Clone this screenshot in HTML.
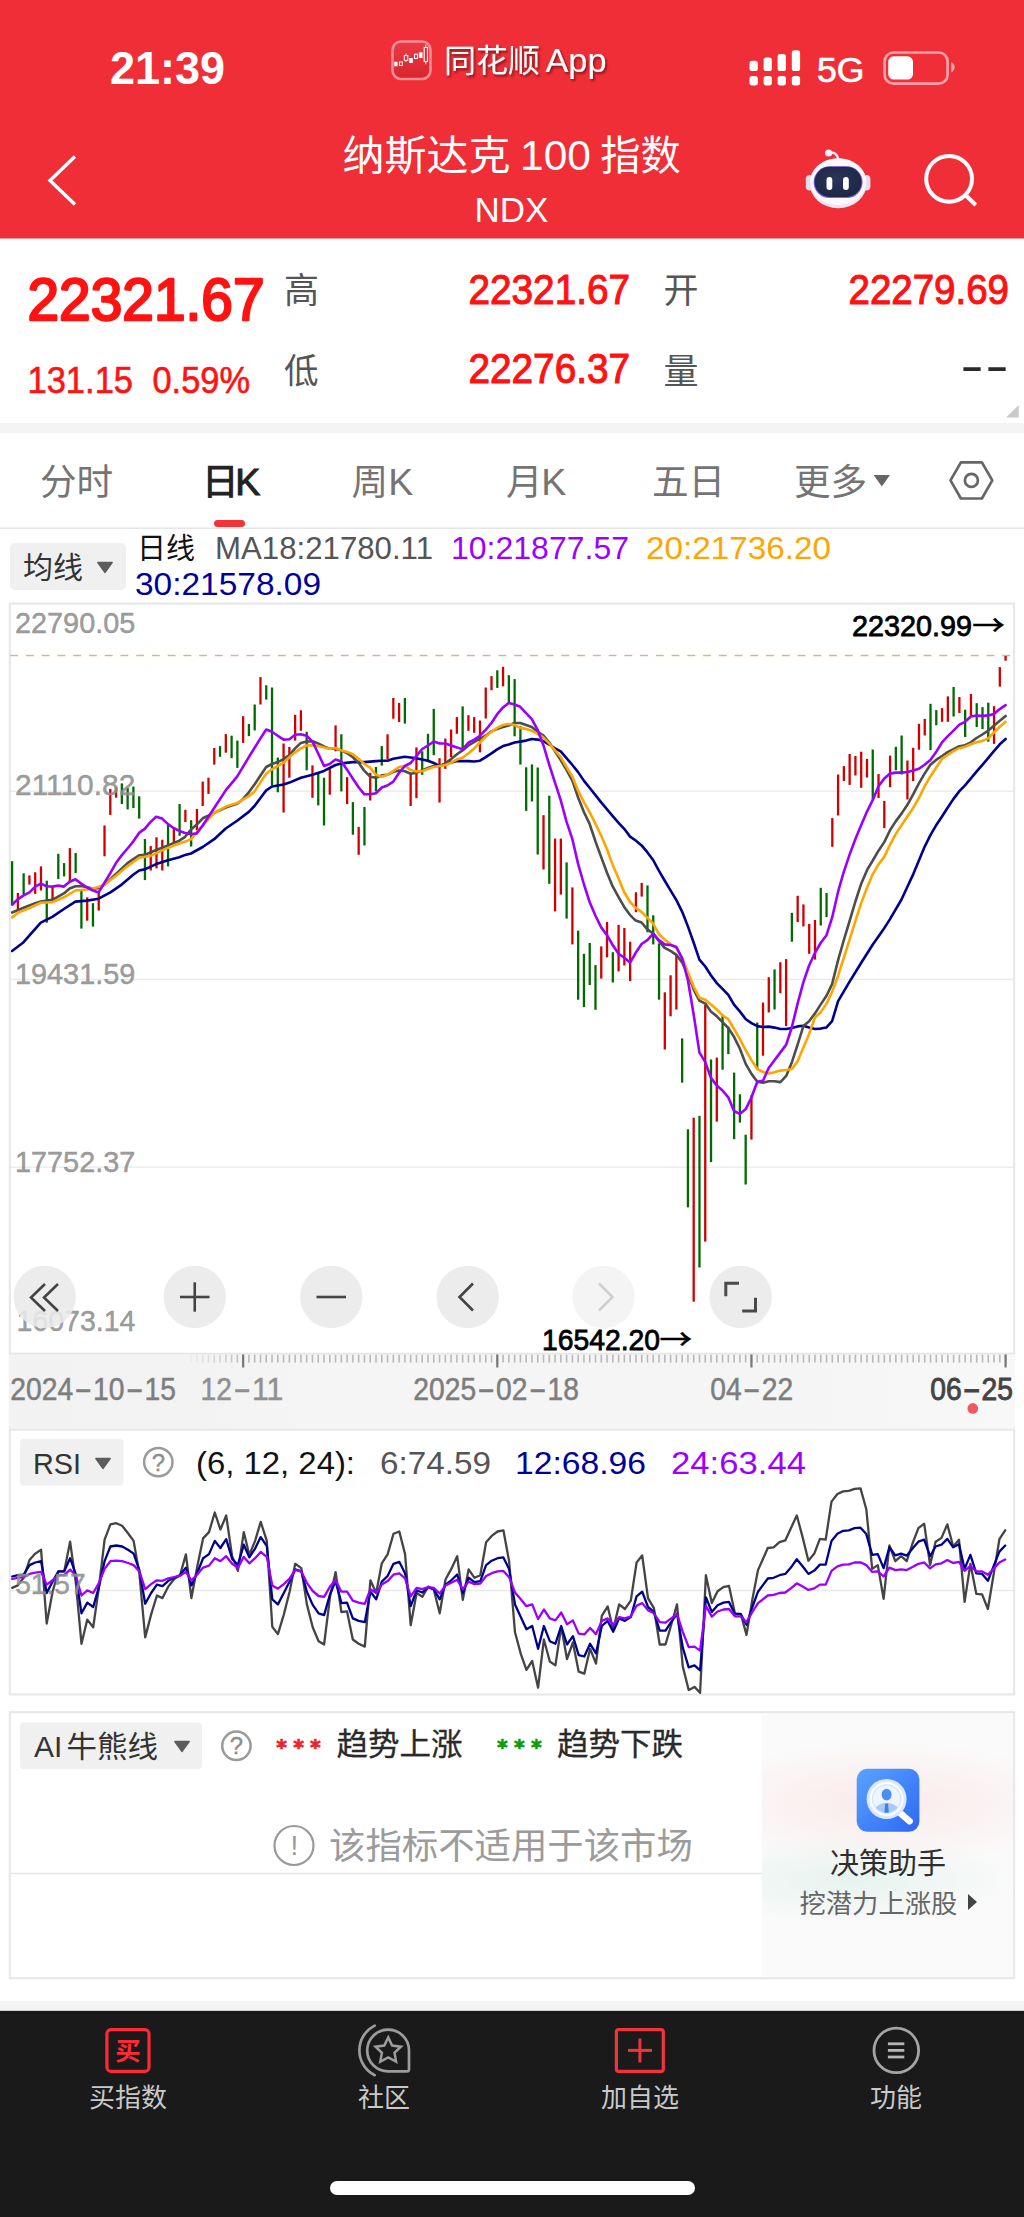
<!DOCTYPE html>
<html lang="zh-CN"><head><meta charset="utf-8"><title>纳斯达克100指数 NDX</title>
<style>html,body{margin:0;padding:0;background:#fff;}body{width:1024px;height:2217px;overflow:hidden;}svg{display:block;font-family:"Liberation Sans", "Noto Sans CJK SC", sans-serif;}text{white-space:pre;}</style></head>
<body>
<svg width="1024" height="2217" viewBox="0 0 1024 2217">
<rect x="0" y="0" width="1024" height="2217" fill="#ffffff"/>
<rect x="0" y="0" width="1024" height="238.5" fill="#F02E37"/>
<rect x="0" y="422.9" width="1024" height="10.3" fill="#f4f4f4"/>
<text x="110" y="84" font-size="46" fill="#fff" font-weight="bold" textLength="115" lengthAdjust="spacingAndGlyphs">21:39</text>
<linearGradient id="aig" x1="0" x2="0" y1="0" y2="1"><stop offset="0" stop-color="#ea3b45"/><stop offset="1" stop-color="#d9252f"/></linearGradient>
<g id="appicon"><rect x="392.5" y="41.5" width="38" height="37.5" rx="8.5" fill="url(#aig)" stroke="#f28d92" stroke-width="2.6"/><rect x="394.3" y="61.7" width="3.2" height="4.6" fill="#fff"/><rect x="399.4" y="61.9" width="2.9" height="3.6" fill="none" stroke="#fff" stroke-width="1"/><line x1="406" y1="53.5" x2="406" y2="62" stroke="#fff" stroke-width="0.8"/><rect x="404.3" y="55.6" width="3.5" height="4.8" fill="#e2303a" stroke="#fff" stroke-width="1"/><rect x="409.2" y="58" width="3.6" height="5" fill="#fff"/><rect x="414.5" y="54.2" width="3" height="4.2" fill="none" stroke="#fff" stroke-width="1"/><rect x="418.9" y="52.3" width="3.6" height="5.7" fill="#fff"/><line x1="425.8" y1="44.7" x2="425.8" y2="64.3" stroke="#fff" stroke-width="0.9"/><rect x="424.2" y="47.5" width="3.3" height="14" fill="#e2303a" stroke="#fff" stroke-width="1.1"/></g>
<filter id="ts" x="-10%" y="-20%" width="120%" height="150%"><feDropShadow dx="1.5" dy="2" stdDeviation="1.2" flood-color="#5a0a10" flood-opacity="0.75"/></filter>
<text y="72" font-size="32" fill="#fff" filter="url(#ts)"><tspan x="444">同花顺</tspan><tspan> </tspan><tspan x="545.5" font-size="33.5" textLength="61" lengthAdjust="spacingAndGlyphs">App</tspan></text>
<rect x="749.5" y="60.8" width="8.3" height="10.2" rx="2.6" fill="#fff"/>
<rect x="749.5" y="76" width="8.3" height="9.4" rx="2.6" fill="#fff"/>
<rect x="763.6" y="57.5" width="8.3" height="13.5" rx="2.6" fill="#fff"/>
<rect x="763.6" y="76" width="8.3" height="9.4" rx="2.6" fill="#fff"/>
<rect x="777.6" y="54.1" width="8.3" height="16.9" rx="2.6" fill="#fff"/>
<rect x="777.6" y="76" width="8.3" height="9.4" rx="2.6" fill="#fff"/>
<rect x="791.8" y="50.3" width="8.3" height="20.7" rx="2.6" fill="#fff"/>
<rect x="791.8" y="76" width="8.3" height="9.4" rx="2.6" fill="#fff"/>
<text x="817" y="81.5" font-size="35" fill="#fff" textLength="47.5" lengthAdjust="spacingAndGlyphs" stroke="#fff" stroke-width="0.7">5G</text>
<rect x="884.6" y="52.5" width="63" height="31.2" rx="9" fill="none" stroke="#f7a0a5" stroke-width="2.7"/>
<rect x="888.2" y="56.3" width="24.8" height="23.3" rx="5.5" fill="#fff"/>
<path d="M951.2,62 C955.8,63.8 955.8,70.6 951.2,72.4 z" fill="#f7a0a5"/>
<polyline points="75,156.5 50,180.5 75,204.5" fill="none" stroke="#fff" stroke-width="3.4" stroke-linejoin="miter"/>
<text y="169.5" font-size="41" fill="#fff"><tspan x="342.5" textLength="168" lengthAdjust="spacingAndGlyphs">纳斯达克</tspan><tspan> </tspan><tspan x="520" font-size="42.5">100</tspan><tspan> </tspan><tspan x="600.3" textLength="80.5" lengthAdjust="spacingAndGlyphs">指数</tspan></text>
<text x="511.5" y="222" font-size="35" fill="#fff" text-anchor="middle">NDX</text>
<radialGradient id="rface" cx="0.45" cy="0.4" r="0.7"><stop offset="0" stop-color="#2b3558"/><stop offset="1" stop-color="#1d2443"/></radialGradient>
<g id="robot">
<path d="M838.2,159 C837.5,154 834,151.8 829.5,153" fill="none" stroke="#f4eef8" stroke-width="2.4" stroke-linecap="round"/>
<circle cx="828.6" cy="153" r="3.6" fill="#f6f1fa"/>
<rect x="805.8" y="175" width="8" height="15.5" rx="4" fill="#e6dcee"/>
<rect x="862.4" y="175" width="8" height="15.5" rx="4" fill="#e6dcee"/>
<ellipse cx="838.2" cy="183.2" rx="28.6" ry="25" fill="#ece4f3"/>
<ellipse cx="838.2" cy="181.8" rx="28" ry="23.3" fill="#fbf8fd"/>
<rect x="813.6" y="166.3" width="49" height="31.8" rx="15.9" fill="#7c5fe6"/>
<rect x="814.6" y="166.8" width="47" height="30.2" rx="15.1" fill="url(#rface)"/>
<rect x="826.5" y="177" width="5.8" height="13" rx="2.9" fill="#fff"/>
<rect x="843" y="177" width="5.8" height="13" rx="2.9" fill="#fff"/>
</g>
<circle cx="949.1" cy="178.8" r="22.9" fill="none" stroke="#fff" stroke-width="4"/>
<line x1="964.6" y1="194.3" x2="975.8" y2="205" stroke="#fff" stroke-width="4" stroke-linecap="butt"/>
<text x="27.5" y="320.3" font-size="59" fill="#FF1212" textLength="237" lengthAdjust="spacingAndGlyphs" stroke="#FF1212" stroke-width="2.4" stroke-linejoin="round">22321.67</text>
<text x="27.5" y="393.3" font-size="37.5" fill="#FF1212" textLength="105.5" lengthAdjust="spacingAndGlyphs" stroke="#FF1212" stroke-width="0.6">131.15</text>
<text x="152.5" y="393.3" font-size="37.5" fill="#FF1212" textLength="97.5" lengthAdjust="spacingAndGlyphs" stroke="#FF1212" stroke-width="0.6">0.59%</text>
<text x="284" y="303.3" font-size="35" fill="#555">高</text>
<text x="284" y="383" font-size="34.5" fill="#555">低</text>
<text x="663.5" y="303" font-size="35" fill="#555">开</text>
<text x="663.5" y="383.8" font-size="35" fill="#555">量</text>
<text x="468.5" y="304.2" font-size="42" fill="#FF1212" textLength="161.5" lengthAdjust="spacingAndGlyphs" stroke="#FF1212" stroke-width="1.1">22321.67</text>
<text x="468.5" y="383.4" font-size="42" fill="#FF1212" textLength="161.5" lengthAdjust="spacingAndGlyphs" stroke="#FF1212" stroke-width="1.1">22276.37</text>
<text x="848.5" y="304.2" font-size="42" fill="#FF1212" textLength="160.5" lengthAdjust="spacingAndGlyphs" stroke="#FF1212" stroke-width="1.1">22279.69</text>
<text transform="translate(0,381.7) scale(1.49,1)" x="644.41 661.32" y="0" font-size="47.5" fill="#2a2a2a">--</text>
<polygon points="1018.8,404.9 1018.8,417.6 1006,417.6" fill="#cacaca"/>
<text x="40" y="495.3" font-size="36.6" fill="#747474">分时</text>
<text y="495.3" font-size="36.6" fill="#222" stroke="#222" stroke-width="1"><tspan x="202">日</tspan><tspan x="235.2" font-size="37.5">K</tspan></text>
<text y="495.3" font-size="36.6" fill="#747474"><tspan x="351.5">周</tspan><tspan x="388.3" font-size="37.5">K</tspan></text>
<text y="495.3" font-size="36.6" fill="#747474"><tspan x="506">月</tspan><tspan x="541.3" font-size="37.5">K</tspan></text>
<text x="652" y="495.3" font-size="36.6" fill="#747474">五日</text>
<text x="794" y="495.3" font-size="36.6" fill="#747474">更多</text>
<polygon points="874.6,475.5 889,475.5 881.8,485.5" fill="#666" stroke="#666" stroke-width="1.2" stroke-linejoin="round"/>
<rect x="214" y="520" width="31" height="7" rx="3.5" fill="#F5333A"/>
<polygon points="992.3,480.4 981.9,498.5 960.9,498.5 950.5,480.4 960.9,462.3 981.9,462.3" fill="none" stroke="#666" stroke-width="2.7" stroke-linejoin="round"/>
<circle cx="971.4" cy="480.4" r="6.5" fill="none" stroke="#666" stroke-width="2.7"/>
<rect x="0" y="527.5" width="1024" height="1.5" fill="#e6e6e6"/>
<rect x="10" y="543" width="116" height="47" rx="5" fill="#f0f0f0"/>
<text x="23" y="578" font-size="30" fill="#333">均线</text>
<polygon points="97.8,562.5 112.2,562.5 105.0,572.5" fill="#5c5c5c" stroke="#5c5c5c" stroke-width="1.3" stroke-linejoin="round"/>
<text x="137" y="559" font-size="29" fill="#111">日线</text>
<text x="215" y="559" font-size="30.5" fill="#555" textLength="218" lengthAdjust="spacingAndGlyphs">MA18:21780.11</text>
<text x="451" y="559" font-size="30.5" fill="#9D00FF" textLength="178" lengthAdjust="spacingAndGlyphs">10:21877.57</text>
<text x="646" y="559" font-size="30.5" fill="#FFA500" textLength="185" lengthAdjust="spacingAndGlyphs">20:21736.20</text>
<text x="135" y="595" font-size="30.5" fill="#00009A" textLength="186" lengthAdjust="spacingAndGlyphs">30:21578.09</text>
<line x1="9.8" y1="791.2" x2="1014.1" y2="791.2" stroke="#e9e9e9" stroke-width="1.3"/>
<line x1="9.8" y1="979.5" x2="1014.1" y2="979.5" stroke="#e9e9e9" stroke-width="1.3"/>
<line x1="9.8" y1="1167.2" x2="1014.1" y2="1167.2" stroke="#e9e9e9" stroke-width="1.3"/>
<rect x="9.8" y="603.6" width="1004.3" height="750.1" fill="none" stroke="#e7e7e7" stroke-width="2.1"/>
<line x1="10.2" y1="655.4" x2="1013" y2="655.4" stroke="#d9b58b" stroke-width="1.5" stroke-dasharray="7.874 7.874"/>
<g stroke-width="2.3"><line x1="12.10" y1="861.2" x2="12.10" y2="905.1" stroke="#006B00"/><line x1="17.88" y1="893.0" x2="17.88" y2="909.0" stroke="#D00000"/><line x1="23.65" y1="873.3" x2="23.65" y2="894.4" stroke="#006B00"/><line x1="29.43" y1="875.4" x2="29.43" y2="884.6" stroke="#D00000"/><line x1="35.20" y1="872.3" x2="35.20" y2="893.8" stroke="#D00000"/><line x1="40.98" y1="866.4" x2="40.98" y2="890.5" stroke="#D00000"/><line x1="46.76" y1="880.7" x2="46.76" y2="922.7" stroke="#006B00"/><line x1="52.53" y1="886.6" x2="52.53" y2="900.2" stroke="#D00000"/><line x1="58.31" y1="853.8" x2="58.31" y2="879.1" stroke="#006B00"/><line x1="64.09" y1="863.1" x2="64.09" y2="876.4" stroke="#006B00"/><line x1="69.86" y1="848.1" x2="69.86" y2="881.7" stroke="#D00000"/><line x1="75.64" y1="853.0" x2="75.64" y2="872.9" stroke="#006B00"/><line x1="81.41" y1="890.5" x2="81.41" y2="928.6" stroke="#006B00"/><line x1="87.19" y1="897.3" x2="87.19" y2="920.7" stroke="#D00000"/><line x1="92.97" y1="903.2" x2="92.97" y2="926.6" stroke="#006B00"/><line x1="98.74" y1="891.4" x2="98.74" y2="910.6" stroke="#D00000"/><line x1="104.52" y1="825.4" x2="104.52" y2="856.3" stroke="#D00000"/><line x1="110.29" y1="788.9" x2="110.29" y2="814.9" stroke="#D00000"/><line x1="116.07" y1="786.6" x2="116.07" y2="797.7" stroke="#D00000"/><line x1="121.85" y1="783.4" x2="121.85" y2="804.1" stroke="#006B00"/><line x1="127.62" y1="787.9" x2="127.62" y2="809.4" stroke="#006B00"/><line x1="133.40" y1="786.6" x2="133.40" y2="808.0" stroke="#006B00"/><line x1="139.18" y1="796.3" x2="139.18" y2="818.6" stroke="#006B00"/><line x1="144.95" y1="839.1" x2="144.95" y2="880.1" stroke="#006B00"/><line x1="150.73" y1="846.1" x2="150.73" y2="870.5" stroke="#D00000"/><line x1="156.50" y1="837.3" x2="156.50" y2="868.4" stroke="#D00000"/><line x1="162.28" y1="839.7" x2="162.28" y2="870.5" stroke="#D00000"/><line x1="168.06" y1="825.0" x2="168.06" y2="866.4" stroke="#006B00"/><line x1="173.83" y1="827.0" x2="173.83" y2="842.6" stroke="#D00000"/><line x1="179.61" y1="803.9" x2="179.61" y2="835.8" stroke="#006B00"/><line x1="185.38" y1="809.8" x2="185.38" y2="822.1" stroke="#D00000"/><line x1="191.16" y1="820.2" x2="191.16" y2="846.5" stroke="#006B00"/><line x1="196.94" y1="808.9" x2="196.94" y2="830.4" stroke="#D00000"/><line x1="202.71" y1="781.6" x2="202.71" y2="806.0" stroke="#D00000"/><line x1="208.49" y1="777.7" x2="208.49" y2="793.9" stroke="#D00000"/><line x1="214.27" y1="748.0" x2="214.27" y2="764.6" stroke="#D00000"/><line x1="220.04" y1="746.1" x2="220.04" y2="756.8" stroke="#006B00"/><line x1="225.82" y1="734.1" x2="225.82" y2="752.7" stroke="#D00000"/><line x1="231.59" y1="735.7" x2="231.59" y2="758.2" stroke="#006B00"/><line x1="237.37" y1="740.6" x2="237.37" y2="767.9" stroke="#006B00"/><line x1="243.15" y1="716.2" x2="243.15" y2="742.9" stroke="#D00000"/><line x1="248.92" y1="724.0" x2="248.92" y2="736.1" stroke="#006B00"/><line x1="254.70" y1="704.5" x2="254.70" y2="730.4" stroke="#006B00"/><line x1="260.48" y1="677.1" x2="260.48" y2="704.5" stroke="#D00000"/><line x1="266.25" y1="685.3" x2="266.25" y2="699.6" stroke="#006B00"/><line x1="272.03" y1="687.5" x2="272.03" y2="785.5" stroke="#006B00"/><line x1="277.80" y1="757.6" x2="277.80" y2="792.3" stroke="#006B00"/><line x1="283.58" y1="743.5" x2="283.58" y2="812.5" stroke="#D00000"/><line x1="289.36" y1="747.0" x2="289.36" y2="777.7" stroke="#D00000"/><line x1="295.13" y1="714.8" x2="295.13" y2="740.6" stroke="#D00000"/><line x1="300.91" y1="710.3" x2="300.91" y2="730.8" stroke="#D00000"/><line x1="306.68" y1="731.8" x2="306.68" y2="770.3" stroke="#006B00"/><line x1="312.46" y1="765.4" x2="312.46" y2="797.8" stroke="#D00000"/><line x1="318.24" y1="772.8" x2="318.24" y2="805.4" stroke="#006B00"/><line x1="324.01" y1="777.7" x2="324.01" y2="825.5" stroke="#006B00"/><line x1="329.79" y1="767.9" x2="329.79" y2="794.7" stroke="#D00000"/><line x1="335.57" y1="725.4" x2="335.57" y2="751.3" stroke="#D00000"/><line x1="341.34" y1="734.3" x2="341.34" y2="791.4" stroke="#006B00"/><line x1="347.12" y1="777.1" x2="347.12" y2="804.1" stroke="#D00000"/><line x1="352.89" y1="802.1" x2="352.89" y2="834.7" stroke="#006B00"/><line x1="358.67" y1="826.9" x2="358.67" y2="854.8" stroke="#D00000"/><line x1="364.45" y1="807.0" x2="364.45" y2="845.5" stroke="#006B00"/><line x1="370.22" y1="772.8" x2="370.22" y2="800.5" stroke="#D00000"/><line x1="376.00" y1="767.0" x2="376.00" y2="791.4" stroke="#006B00"/><line x1="381.77" y1="746.1" x2="381.77" y2="765.6" stroke="#006B00"/><line x1="387.55" y1="734.3" x2="387.55" y2="759.1" stroke="#D00000"/><line x1="393.33" y1="698.0" x2="393.33" y2="718.7" stroke="#D00000"/><line x1="399.10" y1="702.9" x2="399.10" y2="722.0" stroke="#D00000"/><line x1="404.88" y1="698.0" x2="404.88" y2="723.6" stroke="#006B00"/><line x1="410.66" y1="773.4" x2="410.66" y2="806.0" stroke="#D00000"/><line x1="416.43" y1="747.4" x2="416.43" y2="798.2" stroke="#D00000"/><line x1="422.21" y1="751.3" x2="422.21" y2="774.8" stroke="#006B00"/><line x1="427.98" y1="733.8" x2="427.98" y2="762.1" stroke="#006B00"/><line x1="433.76" y1="708.9" x2="433.76" y2="755.2" stroke="#006B00"/><line x1="439.54" y1="758.2" x2="439.54" y2="802.5" stroke="#D00000"/><line x1="445.31" y1="738.6" x2="445.31" y2="768.9" stroke="#D00000"/><line x1="451.09" y1="729.5" x2="451.09" y2="757.2" stroke="#D00000"/><line x1="456.86" y1="717.1" x2="456.86" y2="733.8" stroke="#D00000"/><line x1="462.64" y1="706.4" x2="462.64" y2="748.4" stroke="#006B00"/><line x1="468.42" y1="715.2" x2="468.42" y2="730.8" stroke="#D00000"/><line x1="474.19" y1="717.1" x2="474.19" y2="732.8" stroke="#D00000"/><line x1="479.97" y1="720.5" x2="479.97" y2="752.3" stroke="#D00000"/><line x1="485.75" y1="687.5" x2="485.75" y2="718.5" stroke="#D00000"/><line x1="491.52" y1="676.1" x2="491.52" y2="690.2" stroke="#D00000"/><line x1="497.30" y1="670.3" x2="497.30" y2="687.9" stroke="#006B00"/><line x1="503.07" y1="666.8" x2="503.07" y2="686.3" stroke="#D00000"/><line x1="508.85" y1="675.2" x2="508.85" y2="703.5" stroke="#006B00"/><line x1="514.63" y1="679.1" x2="514.63" y2="736.3" stroke="#006B00"/><line x1="520.40" y1="725.9" x2="520.40" y2="764.6" stroke="#006B00"/><line x1="526.18" y1="767.3" x2="526.18" y2="810.9" stroke="#006B00"/><line x1="531.95" y1="764.4" x2="531.95" y2="801.5" stroke="#006B00"/><line x1="537.73" y1="767.5" x2="537.73" y2="854.5" stroke="#006B00"/><line x1="543.51" y1="815.2" x2="543.51" y2="869.5" stroke="#D00000"/><line x1="549.28" y1="795.7" x2="549.28" y2="883.8" stroke="#006B00"/><line x1="555.06" y1="838.6" x2="555.06" y2="911.4" stroke="#D00000"/><line x1="560.84" y1="838.6" x2="560.84" y2="894.6" stroke="#D00000"/><line x1="566.61" y1="862.4" x2="566.61" y2="918.6" stroke="#006B00"/><line x1="572.39" y1="887.4" x2="572.39" y2="944.4" stroke="#D00000"/><line x1="578.16" y1="930.7" x2="578.16" y2="999.7" stroke="#006B00"/><line x1="583.94" y1="953.8" x2="583.94" y2="1007.1" stroke="#006B00"/><line x1="589.72" y1="943.0" x2="589.72" y2="985.0" stroke="#006B00"/><line x1="595.49" y1="965.1" x2="595.49" y2="1009.8" stroke="#006B00"/><line x1="601.27" y1="946.4" x2="601.27" y2="978.6" stroke="#D00000"/><line x1="607.04" y1="922.0" x2="607.04" y2="957.3" stroke="#D00000"/><line x1="612.82" y1="952.2" x2="612.82" y2="982.5" stroke="#006B00"/><line x1="618.60" y1="924.9" x2="618.60" y2="971.4" stroke="#D00000"/><line x1="624.37" y1="928.0" x2="624.37" y2="965.5" stroke="#D00000"/><line x1="630.15" y1="941.7" x2="630.15" y2="981.1" stroke="#D00000"/><line x1="635.93" y1="892.3" x2="635.93" y2="912.2" stroke="#D00000"/><line x1="641.70" y1="882.9" x2="641.70" y2="896.6" stroke="#D00000"/><line x1="647.48" y1="885.4" x2="647.48" y2="932.3" stroke="#006B00"/><line x1="653.25" y1="915.3" x2="653.25" y2="944.4" stroke="#006B00"/><line x1="659.03" y1="943.4" x2="659.03" y2="999.7" stroke="#006B00"/><line x1="664.81" y1="992.3" x2="664.81" y2="1049.5" stroke="#D00000"/><line x1="670.58" y1="975.3" x2="670.58" y2="1016.3" stroke="#D00000"/><line x1="676.36" y1="954.8" x2="676.36" y2="1009.5" stroke="#D00000"/><line x1="682.13" y1="1038.4" x2="682.13" y2="1082.7" stroke="#006B00"/><line x1="687.91" y1="1129.3" x2="687.91" y2="1207.4" stroke="#006B00"/><line x1="693.69" y1="1117.7" x2="693.69" y2="1301.7" stroke="#D00000"/><line x1="699.46" y1="1115.8" x2="699.46" y2="1267.5" stroke="#006B00"/><line x1="705.24" y1="1004.8" x2="705.24" y2="1241.6" stroke="#D00000"/><line x1="711.02" y1="1059.5" x2="711.02" y2="1162.1" stroke="#006B00"/><line x1="716.79" y1="1057.6" x2="716.79" y2="1121.6" stroke="#D00000"/><line x1="722.57" y1="1014.6" x2="722.57" y2="1069.7" stroke="#006B00"/><line x1="728.34" y1="1026.9" x2="728.34" y2="1054.1" stroke="#006B00"/><line x1="734.12" y1="1072.6" x2="734.12" y2="1139.2" stroke="#006B00"/><line x1="739.90" y1="1094.3" x2="739.90" y2="1122.6" stroke="#006B00"/><line x1="745.67" y1="1134.7" x2="745.67" y2="1184.5" stroke="#006B00"/><line x1="751.45" y1="1095.3" x2="751.45" y2="1139.6" stroke="#D00000"/><line x1="757.23" y1="1022.5" x2="757.23" y2="1069.6" stroke="#006B00"/><line x1="763.00" y1="1002.6" x2="763.00" y2="1055.7" stroke="#D00000"/><line x1="768.78" y1="977.2" x2="768.78" y2="1012.4" stroke="#D00000"/><line x1="774.55" y1="969.4" x2="774.55" y2="1009.5" stroke="#006B00"/><line x1="780.33" y1="962.2" x2="780.33" y2="993.2" stroke="#D00000"/><line x1="786.11" y1="959.1" x2="786.11" y2="1026.1" stroke="#D00000"/><line x1="791.88" y1="912.8" x2="791.88" y2="941.7" stroke="#006B00"/><line x1="797.66" y1="895.8" x2="797.66" y2="922.1" stroke="#D00000"/><line x1="803.43" y1="904.4" x2="803.43" y2="926.4" stroke="#D00000"/><line x1="809.21" y1="923.9" x2="809.21" y2="953.8" stroke="#D00000"/><line x1="814.99" y1="920.0" x2="814.99" y2="959.6" stroke="#D00000"/><line x1="820.76" y1="887.8" x2="820.76" y2="925.5" stroke="#006B00"/><line x1="826.54" y1="892.9" x2="826.54" y2="917.1" stroke="#006B00"/><line x1="832.32" y1="818.1" x2="832.32" y2="846.8" stroke="#D00000"/><line x1="838.09" y1="774.5" x2="838.09" y2="815.5" stroke="#D00000"/><line x1="843.87" y1="766.1" x2="843.87" y2="781.0" stroke="#D00000"/><line x1="849.64" y1="754.0" x2="849.64" y2="784.9" stroke="#D00000"/><line x1="855.42" y1="756.0" x2="855.42" y2="775.5" stroke="#D00000"/><line x1="861.20" y1="751.7" x2="861.20" y2="787.8" stroke="#D00000"/><line x1="866.97" y1="758.9" x2="866.97" y2="777.5" stroke="#D00000"/><line x1="872.75" y1="749.5" x2="872.75" y2="799.5" stroke="#006B00"/><line x1="878.52" y1="774.1" x2="878.52" y2="798.0" stroke="#D00000"/><line x1="884.30" y1="800.9" x2="884.30" y2="828.2" stroke="#D00000"/><line x1="890.08" y1="755.6" x2="890.08" y2="787.2" stroke="#D00000"/><line x1="895.85" y1="746.8" x2="895.85" y2="770.2" stroke="#006B00"/><line x1="901.63" y1="735.5" x2="901.63" y2="774.5" stroke="#006B00"/><line x1="907.41" y1="760.5" x2="907.41" y2="799.5" stroke="#D00000"/><line x1="913.18" y1="747.8" x2="913.18" y2="781.0" stroke="#D00000"/><line x1="918.96" y1="723.8" x2="918.96" y2="749.7" stroke="#D00000"/><line x1="924.73" y1="718.9" x2="924.73" y2="735.5" stroke="#D00000"/><line x1="930.51" y1="703.8" x2="930.51" y2="750.1" stroke="#006B00"/><line x1="936.29" y1="710.1" x2="936.29" y2="725.3" stroke="#006B00"/><line x1="942.06" y1="708.1" x2="942.06" y2="721.8" stroke="#D00000"/><line x1="947.84" y1="696.4" x2="947.84" y2="721.8" stroke="#D00000"/><line x1="953.61" y1="687.0" x2="953.61" y2="716.5" stroke="#006B00"/><line x1="959.39" y1="697.0" x2="959.39" y2="713.0" stroke="#D00000"/><line x1="965.17" y1="709.7" x2="965.17" y2="737.0" stroke="#006B00"/><line x1="970.94" y1="693.9" x2="970.94" y2="715.9" stroke="#D00000"/><line x1="976.72" y1="703.2" x2="976.72" y2="727.1" stroke="#006B00"/><line x1="982.50" y1="707.1" x2="982.50" y2="729.0" stroke="#006B00"/><line x1="988.27" y1="702.7" x2="988.27" y2="741.7" stroke="#006B00"/><line x1="994.05" y1="706.2" x2="994.05" y2="743.9" stroke="#D00000"/><line x1="999.82" y1="667.1" x2="999.82" y2="686.6" stroke="#D00000"/><line x1="1005.60" y1="656.0" x2="1005.60" y2="660.7" stroke="#D00000"/></g>
<clipPath id="cc"><rect x="10.8" y="604.6" width="1002.3" height="748"/></clipPath>
<g clip-path="url(#cc)">
<polyline points="12.1,951.0 23.6,942.2 29.5,935.4 40.8,922.7 52.3,916.8 63.9,909.0 75.4,901.6 87.1,900.6 98.6,898.7 110.4,892.4 121.7,884.6 133.2,874.8 139.1,870.5 144.7,869.4 156.2,864.1 168.0,860.2 179.3,857.3 185.2,854.9 191.0,853.5 202.7,847.0 214.2,839.2 225.7,828.5 237.1,820.7 248.8,811.9 254.5,806.0 260.3,798.2 266.2,790.4 272.0,786.5 283.6,784.5 289.4,782.6 300.9,777.7 312.5,774.8 324.0,770.9 335.5,765.0 341.4,763.4 352.9,762.1 364.4,762.1 375.9,761.1 381.8,760.7 387.4,760.7 393.3,758.8 404.8,756.8 416.3,758.2 427.9,760.7 433.7,763.0 439.6,766.0 445.4,764.0 457.0,761.1 468.5,761.1 474.3,761.5 480.0,760.7 485.7,757.2 491.5,753.3 497.2,749.4 503.0,746.1 508.7,744.5 514.6,742.5 520.2,741.6 526.1,740.6 531.8,739.0 537.6,739.6 543.5,741.2 549.3,744.5 555.0,748.4 560.7,751.3 566.5,758.2 572.4,765.0 578.1,772.1 584.0,780.9 589.6,787.8 601.2,802.4 612.7,816.1 618.6,822.9 624.2,828.8 630.1,836.6 635.7,840.5 641.6,845.4 647.3,852.2 653.1,860.0 659.0,870.8 664.6,880.5 670.5,890.3 676.4,900.1 682.2,911.8 687.9,926.4 693.8,943.0 699.4,959.6 705.3,966.5 710.9,975.3 716.8,983.1 722.5,988.9 728.3,994.8 734.0,1004.6 739.8,1011.4 745.8,1019.2 751.5,1023.1 757.3,1026.1 763.0,1027.0 768.7,1026.6 774.5,1027.6 780.4,1029.0 786.2,1029.0 791.9,1028.0 797.6,1026.4 803.4,1025.7 809.1,1027.6 815.0,1029.0 820.6,1028.6 826.5,1027.4 832.1,1021.2 838.1,1001.1 849.6,981.6 861.1,963.0 872.8,944.5 884.4,927.9 890.0,919.1 895.7,909.3 901.5,899.5 907.4,886.8 913.3,874.1 918.9,860.5 924.6,846.8 930.4,835.1 936.1,825.3 942.0,816.5 947.6,807.7 953.5,798.9 959.4,791.1 965.0,785.3 970.9,778.4 976.5,771.6 982.4,764.8 988.3,757.9 993.9,751.1 999.8,744.3 1005.6,739.0" fill="none" stroke="#000090" stroke-width="2.6" stroke-linejoin="round" stroke-linecap="round"/>
<polyline points="12.1,912.5 23.6,907.7 35.2,903.2 40.8,901.6 52.3,899.8 63.9,893.4 69.7,888.5 75.4,886.2 81.2,886.0 93.0,888.5 98.6,888.1 104.5,884.6 116.0,873.9 127.5,863.1 139.1,855.3 144.7,854.9 156.2,850.0 168.0,845.5 179.3,840.7 185.2,836.8 191.0,829.5 196.8,824.6 202.7,818.3 214.2,812.9 225.7,807.6 237.1,803.7 242.9,799.2 248.8,792.3 254.5,784.5 260.3,775.7 266.2,767.0 272.0,764.0 277.7,762.1 283.6,759.1 289.4,755.2 295.1,748.4 300.9,742.9 306.6,741.6 312.5,741.2 318.1,743.5 324.0,746.4 329.6,748.8 335.5,748.4 341.4,750.4 347.2,753.3 352.9,757.2 358.8,763.0 364.4,770.9 370.3,776.7 375.9,777.7 381.8,775.4 387.4,774.8 393.3,771.8 399.1,770.5 404.8,771.2 410.7,773.8 416.3,772.8 422.2,770.5 427.9,767.9 433.7,766.0 439.6,766.0 445.4,763.4 451.1,759.1 457.0,754.3 462.6,750.4 468.5,745.5 474.3,742.0 480.0,738.6 485.7,735.7 491.5,731.4 497.2,728.9 503.0,726.9 508.7,725.5 514.6,723.0 520.2,723.0 526.1,725.0 531.8,726.9 537.6,731.8 543.5,735.7 549.3,742.5 555.0,751.3 560.7,760.1 566.5,769.9 572.4,780.6 578.1,797.5 584.0,812.2 589.6,823.9 595.5,841.5 601.2,857.1 607.0,872.7 612.7,886.4 618.6,897.1 624.2,906.9 630.1,915.1 635.7,920.6 641.6,922.5 647.3,929.4 653.1,933.3 659.0,941.1 664.6,947.9 670.5,950.9 676.4,954.8 682.2,962.6 687.9,974.3 693.8,989.9 699.4,1000.7 705.3,1003.6 710.9,1011.4 716.8,1016.3 722.5,1022.1 728.3,1028.0 734.0,1036.8 739.8,1048.5 745.8,1064.1 751.5,1073.9 757.3,1081.7 763.0,1082.7 768.7,1081.3 774.5,1081.3 780.4,1082.1 786.2,1075.9 791.9,1062.2 797.6,1044.6 803.4,1026.1 809.1,1021.2 815.0,1013.4 820.6,1004.6 826.5,995.8 832.1,984.1 838.1,960.1 843.7,940.5 849.6,921.0 855.4,901.5 861.1,883.9 867.0,870.2 872.8,860.5 878.5,850.7 884.4,841.9 890.0,830.2 895.7,821.4 901.5,813.6 907.4,804.8 913.3,794.1 918.9,783.3 924.6,773.6 930.4,764.8 936.1,759.9 942.0,756.0 947.6,752.1 953.5,749.1 959.4,746.2 965.0,745.2 970.9,742.3 976.5,738.0 982.4,734.5 988.3,730.6 993.9,725.7 999.8,720.8 1005.6,715.9" fill="none" stroke="#4d4d4d" stroke-width="2.6" stroke-linejoin="round" stroke-linecap="round"/>
<polyline points="12.1,917.4 17.8,912.9 29.5,908.0 40.8,902.8 52.3,902.2 63.9,897.3 75.4,890.5 87.1,889.5 98.6,887.1 104.5,884.6 116.0,875.8 127.5,866.1 139.1,857.7 150.4,855.9 162.1,850.4 173.6,845.5 185.2,841.6 191.0,839.2 196.8,832.4 202.7,825.5 214.2,812.9 225.7,806.6 237.1,803.1 248.8,796.2 254.5,791.4 260.3,782.6 266.2,773.8 272.0,769.3 277.7,766.0 283.6,762.7 289.4,757.2 295.1,752.3 300.9,748.4 306.6,745.5 312.5,745.1 318.1,746.1 324.0,747.4 329.6,748.8 335.5,748.0 341.4,750.4 347.2,751.9 352.9,754.3 358.8,759.1 364.4,764.0 370.3,767.9 375.9,774.8 381.8,776.7 387.4,774.8 393.3,770.9 399.1,767.0 404.8,766.0 410.7,769.9 416.3,771.4 422.2,771.2 427.9,768.9 433.7,767.0 439.6,766.0 445.4,765.0 451.1,762.7 457.0,759.5 462.6,757.8 468.5,753.3 474.3,748.4 480.0,742.5 485.7,736.7 491.5,731.8 497.2,727.9 503.0,725.0 508.7,724.0 514.6,725.0 520.2,727.9 526.1,728.9 531.8,730.8 537.6,733.8 543.5,737.7 549.3,743.5 555.0,750.4 560.7,757.2 566.5,767.0 572.4,776.7 578.1,790.7 584.0,802.4 589.6,812.2 595.5,823.9 601.2,835.6 607.0,849.3 612.7,864.9 618.6,878.6 624.2,892.3 630.1,902.0 635.7,907.9 641.6,911.8 647.3,917.7 653.1,923.5 659.0,934.3 664.6,939.5 670.5,944.0 676.4,947.9 682.2,957.7 687.9,972.3 693.8,987.0 699.4,997.7 705.3,999.7 710.9,1004.6 716.8,1009.5 722.5,1015.3 728.3,1019.2 734.0,1029.0 739.8,1038.8 745.8,1050.5 751.5,1060.2 757.3,1069.0 763.0,1072.0 768.7,1073.5 774.5,1072.3 780.4,1070.6 786.2,1070.0 791.9,1069.0 797.6,1061.2 803.4,1047.5 809.1,1033.9 815.0,1017.3 820.6,1012.4 826.5,1003.6 832.1,991.9 838.1,975.7 843.7,958.1 849.6,939.6 855.4,921.0 861.1,903.4 867.0,887.8 872.8,874.1 878.5,864.4 884.4,856.6 890.0,844.8 895.7,834.1 901.5,825.3 907.4,816.5 913.3,807.7 918.9,798.0 924.6,786.2 930.4,776.5 936.1,767.7 942.0,758.9 947.6,755.0 953.5,751.1 959.4,748.2 965.0,746.8 970.9,744.3 976.5,742.3 982.4,740.9 988.3,738.4 993.9,732.5 999.8,726.7 1005.6,721.8" fill="none" stroke="#FFA500" stroke-width="2.6" stroke-linejoin="round" stroke-linecap="round"/>
<polyline points="12.1,904.7 17.8,899.3 23.6,895.4 29.5,892.4 35.2,886.6 40.8,883.6 46.7,886.2 52.3,886.6 58.2,885.6 63.9,886.6 69.7,881.7 75.4,879.3 81.2,883.6 87.1,887.5 93.0,890.5 98.6,892.4 104.5,882.7 110.4,872.9 116.0,863.1 121.7,855.3 127.5,848.5 133.2,841.6 139.1,832.9 144.7,828.9 150.4,822.1 156.2,816.8 162.1,818.6 168.0,824.1 173.6,828.0 179.3,830.9 185.2,832.9 191.0,834.3 196.8,833.4 202.7,825.5 214.2,808.0 225.7,790.4 237.1,776.7 248.8,757.2 260.3,738.6 266.2,729.5 272.0,731.8 277.7,735.7 283.6,739.6 289.4,739.2 295.1,734.7 300.9,734.3 306.6,735.7 312.5,741.6 318.1,753.3 324.0,766.0 329.6,764.0 335.5,759.5 341.4,761.5 347.2,769.9 352.9,778.7 358.8,787.5 364.4,794.3 370.3,794.3 375.9,793.3 381.8,787.5 387.4,785.5 393.3,781.6 399.1,772.8 404.8,766.0 410.7,763.0 416.3,756.2 422.2,749.0 427.9,745.5 433.7,741.6 439.6,743.5 445.4,743.5 451.1,745.5 457.0,747.4 462.6,749.4 468.5,742.5 474.3,739.6 480.0,735.7 485.7,729.8 491.5,723.0 497.2,714.2 503.0,707.4 508.7,702.9 514.6,704.5 520.2,706.8 526.1,713.2 531.8,719.1 537.6,729.8 543.5,745.5 549.3,765.0 555.0,782.6 560.7,800.2 566.5,821.6 572.4,839.2 578.1,863.9 584.0,884.5 589.6,902.0 595.5,915.7 601.2,927.4 607.0,935.2 612.7,945.0 618.6,953.8 624.2,957.7 630.1,962.6 635.7,952.8 641.6,944.0 647.3,940.1 653.1,933.9 659.0,940.1 664.6,944.4 670.5,945.0 676.4,947.0 682.2,958.7 687.9,980.2 693.8,1015.3 699.4,1052.4 705.3,1062.2 710.9,1077.8 716.8,1085.6 722.5,1090.5 728.3,1097.3 734.0,1111.0 739.8,1113.9 745.8,1109.1 751.5,1097.3 757.3,1081.7 763.0,1080.7 768.7,1068.0 774.5,1060.2 780.4,1052.4 786.2,1044.6 791.9,1027.0 797.6,1003.6 803.4,982.1 809.1,965.5 815.0,952.8 820.6,943.0 826.5,935.2 832.1,917.7 838.1,891.7 843.7,872.2 849.6,854.6 855.4,839.0 861.1,825.3 867.0,811.6 872.8,799.9 878.5,786.2 884.4,778.4 890.0,773.6 895.7,772.6 901.5,772.6 907.4,772.0 913.3,770.6 918.9,768.7 924.6,764.8 930.4,759.9 936.1,752.1 942.0,742.3 947.6,736.4 953.5,730.6 959.4,724.7 965.0,721.8 970.9,716.5 976.5,715.5 982.4,715.9 988.3,715.4 993.9,714.0 999.8,709.1 1005.6,705.2" fill="none" stroke="#9B00FF" stroke-width="2.6" stroke-linejoin="round" stroke-linecap="round"/>
</g>
<text x="15" y="633.3" font-size="30" fill="#8f8f8f" textLength="120.3" lengthAdjust="spacingAndGlyphs" stroke="#8f8f8f" stroke-width="0.5" fill-opacity="0.9" stroke-opacity="0.9">22790.05</text>
<text x="15" y="795.3" font-size="30" fill="#8f8f8f" textLength="120.3" lengthAdjust="spacingAndGlyphs" stroke="#8f8f8f" stroke-width="0.5" fill-opacity="0.9" stroke-opacity="0.9">21110.82</text>
<text x="15" y="983.5" font-size="30" fill="#8f8f8f" textLength="120.3" lengthAdjust="spacingAndGlyphs" stroke="#8f8f8f" stroke-width="0.5" fill-opacity="0.9" stroke-opacity="0.9">19431.59</text>
<text x="15" y="1171.7" font-size="30" fill="#8f8f8f" textLength="120.3" lengthAdjust="spacingAndGlyphs" stroke="#8f8f8f" stroke-width="0.5" fill-opacity="0.9" stroke-opacity="0.9">17752.37</text>
<text x="16.5" y="1331.3" font-size="30" fill="#8f8f8f" textLength="119" lengthAdjust="spacingAndGlyphs" stroke="#8f8f8f" stroke-width="0.5" fill-opacity="0.9" stroke-opacity="0.9">16073.14</text>
<text y="635.6" font-size="30" fill="#000" stroke="#000" stroke-width="0.8"><tspan x="852" textLength="120" lengthAdjust="spacingAndGlyphs">22320.99</tspan><tspan x="972.3" dy="0.2" font-size="28" textLength="32.5" lengthAdjust="spacingAndGlyphs" font-family='"Noto Sans CJK SC", sans-serif' stroke-width="0.5">→</tspan></text>
<text y="1349.6" font-size="30" fill="#000" stroke="#000" stroke-width="0.8"><tspan x="542" textLength="118" lengthAdjust="spacingAndGlyphs">16542.20</tspan><tspan x="659.5" dy="0.4" font-size="28" textLength="32.5" lengthAdjust="spacingAndGlyphs" font-family='"Noto Sans CJK SC", sans-serif' stroke-width="0.5">→</tspan></text>
<circle cx="44.75" cy="1297" r="31.2" fill="#e9e9e9" fill-opacity="0.88"/>
<circle cx="194.75" cy="1297" r="31.2" fill="#e9e9e9" fill-opacity="0.88"/>
<circle cx="331.25" cy="1297" r="31.2" fill="#e9e9e9" fill-opacity="0.88"/>
<circle cx="467.75" cy="1297" r="31.2" fill="#e9e9e9" fill-opacity="0.88"/>
<circle cx="603.5" cy="1297" r="31.2" fill="#e9e9e9" fill-opacity="0.48"/>
<circle cx="740.75" cy="1297" r="31.2" fill="#e9e9e9" fill-opacity="0.88"/>
<g fill="none" stroke="#444" stroke-width="2.6"><polyline points="45,1284 31,1297.5 45,1311"/><polyline points="58,1284 44,1297.5 58,1311"/><line x1="180" y1="1297" x2="209.5" y2="1297"/><line x1="194.75" y1="1282.3" x2="194.75" y2="1311.7"/><line x1="316.5" y1="1297" x2="346" y2="1297"/><polyline points="473,1283.5 459.5,1297 473,1310.5"/></g>
<polyline points="599,1283.5 612.5,1297 599,1310.5" fill="none" stroke="#cfcfcf" stroke-width="2.6"/>
<g fill="none" stroke="#4a4a4a" stroke-width="3"><polyline points="725.8,1296.2 725.8,1283.2 739,1283.2"/><polyline points="742.2,1311 755.5,1311 755.5,1297.8"/></g>
<linearGradient id="dg" x1="0" x2="1" y1="0" y2="0"><stop offset="0" stop-color="#f2f2f2"/><stop offset="0.2" stop-color="#f3f3f3"/><stop offset="0.3" stop-color="#f5f5f5"/><stop offset="0.8" stop-color="#f5f5f5"/><stop offset="1" stop-color="#f8f8f8"/></linearGradient>
<rect x="8.8" y="1354.7" width="1006.3" height="73.9" fill="url(#dg)"/>
<g stroke="#b9b9b9" stroke-width="1.6"><line x1="191.16" y1="1354.8" x2="191.16" y2="1362.6" stroke-opacity="0.12"/><line x1="196.94" y1="1354.8" x2="196.94" y2="1362.6" stroke-opacity="0.18"/><line x1="202.71" y1="1354.8" x2="202.71" y2="1362.6" stroke-opacity="0.28"/><line x1="208.49" y1="1354.8" x2="208.49" y2="1362.6" stroke-opacity="0.37"/><line x1="214.27" y1="1354.8" x2="214.27" y2="1362.6" stroke-opacity="0.47"/><line x1="220.04" y1="1354.8" x2="220.04" y2="1362.6" stroke-opacity="0.57"/><line x1="225.82" y1="1354.8" x2="225.82" y2="1362.6" stroke-opacity="0.66"/><line x1="231.59" y1="1354.8" x2="231.59" y2="1362.6" stroke-opacity="0.76"/><line x1="237.37" y1="1354.8" x2="237.37" y2="1362.6" stroke-opacity="0.86"/><line x1="243.15" y1="1354.8" x2="243.15" y2="1362.6" stroke-opacity="0.95"/><line x1="248.92" y1="1354.8" x2="248.92" y2="1362.6" stroke-opacity="1.00"/><line x1="254.70" y1="1354.8" x2="254.70" y2="1362.6" stroke-opacity="1.00"/><line x1="260.48" y1="1354.8" x2="260.48" y2="1362.6" stroke-opacity="1.00"/><line x1="266.25" y1="1354.8" x2="266.25" y2="1362.6" stroke-opacity="1.00"/><line x1="272.03" y1="1354.8" x2="272.03" y2="1362.6" stroke-opacity="1.00"/><line x1="277.80" y1="1354.8" x2="277.80" y2="1362.6" stroke-opacity="1.00"/><line x1="283.58" y1="1354.8" x2="283.58" y2="1362.6" stroke-opacity="1.00"/><line x1="289.36" y1="1354.8" x2="289.36" y2="1362.6" stroke-opacity="1.00"/><line x1="295.13" y1="1354.8" x2="295.13" y2="1362.6" stroke-opacity="1.00"/><line x1="300.91" y1="1354.8" x2="300.91" y2="1362.6" stroke-opacity="1.00"/><line x1="306.68" y1="1354.8" x2="306.68" y2="1362.6" stroke-opacity="1.00"/><line x1="312.46" y1="1354.8" x2="312.46" y2="1362.6" stroke-opacity="1.00"/><line x1="318.24" y1="1354.8" x2="318.24" y2="1362.6" stroke-opacity="1.00"/><line x1="324.01" y1="1354.8" x2="324.01" y2="1362.6" stroke-opacity="1.00"/><line x1="329.79" y1="1354.8" x2="329.79" y2="1362.6" stroke-opacity="1.00"/><line x1="335.57" y1="1354.8" x2="335.57" y2="1362.6" stroke-opacity="1.00"/><line x1="341.34" y1="1354.8" x2="341.34" y2="1362.6" stroke-opacity="1.00"/><line x1="347.12" y1="1354.8" x2="347.12" y2="1362.6" stroke-opacity="1.00"/><line x1="352.89" y1="1354.8" x2="352.89" y2="1362.6" stroke-opacity="1.00"/><line x1="358.67" y1="1354.8" x2="358.67" y2="1362.6" stroke-opacity="1.00"/><line x1="364.45" y1="1354.8" x2="364.45" y2="1362.6" stroke-opacity="1.00"/><line x1="370.22" y1="1354.8" x2="370.22" y2="1362.6" stroke-opacity="1.00"/><line x1="376.00" y1="1354.8" x2="376.00" y2="1362.6" stroke-opacity="1.00"/><line x1="381.77" y1="1354.8" x2="381.77" y2="1362.6" stroke-opacity="1.00"/><line x1="387.55" y1="1354.8" x2="387.55" y2="1362.6" stroke-opacity="1.00"/><line x1="393.33" y1="1354.8" x2="393.33" y2="1362.6" stroke-opacity="1.00"/><line x1="399.10" y1="1354.8" x2="399.10" y2="1362.6" stroke-opacity="1.00"/><line x1="404.88" y1="1354.8" x2="404.88" y2="1362.6" stroke-opacity="1.00"/><line x1="410.66" y1="1354.8" x2="410.66" y2="1362.6" stroke-opacity="1.00"/><line x1="416.43" y1="1354.8" x2="416.43" y2="1362.6" stroke-opacity="1.00"/><line x1="422.21" y1="1354.8" x2="422.21" y2="1362.6" stroke-opacity="1.00"/><line x1="427.98" y1="1354.8" x2="427.98" y2="1362.6" stroke-opacity="1.00"/><line x1="433.76" y1="1354.8" x2="433.76" y2="1362.6" stroke-opacity="1.00"/><line x1="439.54" y1="1354.8" x2="439.54" y2="1362.6" stroke-opacity="1.00"/><line x1="445.31" y1="1354.8" x2="445.31" y2="1362.6" stroke-opacity="1.00"/><line x1="451.09" y1="1354.8" x2="451.09" y2="1362.6" stroke-opacity="1.00"/><line x1="456.86" y1="1354.8" x2="456.86" y2="1362.6" stroke-opacity="1.00"/><line x1="462.64" y1="1354.8" x2="462.64" y2="1362.6" stroke-opacity="1.00"/><line x1="468.42" y1="1354.8" x2="468.42" y2="1362.6" stroke-opacity="1.00"/><line x1="474.19" y1="1354.8" x2="474.19" y2="1362.6" stroke-opacity="1.00"/><line x1="479.97" y1="1354.8" x2="479.97" y2="1362.6" stroke-opacity="1.00"/><line x1="485.75" y1="1354.8" x2="485.75" y2="1362.6" stroke-opacity="1.00"/><line x1="491.52" y1="1354.8" x2="491.52" y2="1362.6" stroke-opacity="1.00"/><line x1="497.30" y1="1354.8" x2="497.30" y2="1362.6" stroke-opacity="1.00"/><line x1="503.07" y1="1354.8" x2="503.07" y2="1362.6" stroke-opacity="1.00"/><line x1="508.85" y1="1354.8" x2="508.85" y2="1362.6" stroke-opacity="1.00"/><line x1="514.63" y1="1354.8" x2="514.63" y2="1362.6" stroke-opacity="1.00"/><line x1="520.40" y1="1354.8" x2="520.40" y2="1362.6" stroke-opacity="1.00"/><line x1="526.18" y1="1354.8" x2="526.18" y2="1362.6" stroke-opacity="1.00"/><line x1="531.95" y1="1354.8" x2="531.95" y2="1362.6" stroke-opacity="1.00"/><line x1="537.73" y1="1354.8" x2="537.73" y2="1362.6" stroke-opacity="1.00"/><line x1="543.51" y1="1354.8" x2="543.51" y2="1362.6" stroke-opacity="1.00"/><line x1="549.28" y1="1354.8" x2="549.28" y2="1362.6" stroke-opacity="1.00"/><line x1="555.06" y1="1354.8" x2="555.06" y2="1362.6" stroke-opacity="1.00"/><line x1="560.84" y1="1354.8" x2="560.84" y2="1362.6" stroke-opacity="1.00"/><line x1="566.61" y1="1354.8" x2="566.61" y2="1362.6" stroke-opacity="1.00"/><line x1="572.39" y1="1354.8" x2="572.39" y2="1362.6" stroke-opacity="1.00"/><line x1="578.16" y1="1354.8" x2="578.16" y2="1362.6" stroke-opacity="1.00"/><line x1="583.94" y1="1354.8" x2="583.94" y2="1362.6" stroke-opacity="1.00"/><line x1="589.72" y1="1354.8" x2="589.72" y2="1362.6" stroke-opacity="1.00"/><line x1="595.49" y1="1354.8" x2="595.49" y2="1362.6" stroke-opacity="1.00"/><line x1="601.27" y1="1354.8" x2="601.27" y2="1362.6" stroke-opacity="1.00"/><line x1="607.04" y1="1354.8" x2="607.04" y2="1362.6" stroke-opacity="1.00"/><line x1="612.82" y1="1354.8" x2="612.82" y2="1362.6" stroke-opacity="1.00"/><line x1="618.60" y1="1354.8" x2="618.60" y2="1362.6" stroke-opacity="1.00"/><line x1="624.37" y1="1354.8" x2="624.37" y2="1362.6" stroke-opacity="1.00"/><line x1="630.15" y1="1354.8" x2="630.15" y2="1362.6" stroke-opacity="1.00"/><line x1="635.93" y1="1354.8" x2="635.93" y2="1362.6" stroke-opacity="1.00"/><line x1="641.70" y1="1354.8" x2="641.70" y2="1362.6" stroke-opacity="1.00"/><line x1="647.48" y1="1354.8" x2="647.48" y2="1362.6" stroke-opacity="1.00"/><line x1="653.25" y1="1354.8" x2="653.25" y2="1362.6" stroke-opacity="1.00"/><line x1="659.03" y1="1354.8" x2="659.03" y2="1362.6" stroke-opacity="1.00"/><line x1="664.81" y1="1354.8" x2="664.81" y2="1362.6" stroke-opacity="1.00"/><line x1="670.58" y1="1354.8" x2="670.58" y2="1362.6" stroke-opacity="1.00"/><line x1="676.36" y1="1354.8" x2="676.36" y2="1362.6" stroke-opacity="1.00"/><line x1="682.13" y1="1354.8" x2="682.13" y2="1362.6" stroke-opacity="1.00"/><line x1="687.91" y1="1354.8" x2="687.91" y2="1362.6" stroke-opacity="1.00"/><line x1="693.69" y1="1354.8" x2="693.69" y2="1362.6" stroke-opacity="1.00"/><line x1="699.46" y1="1354.8" x2="699.46" y2="1362.6" stroke-opacity="1.00"/><line x1="705.24" y1="1354.8" x2="705.24" y2="1362.6" stroke-opacity="1.00"/><line x1="711.02" y1="1354.8" x2="711.02" y2="1362.6" stroke-opacity="1.00"/><line x1="716.79" y1="1354.8" x2="716.79" y2="1362.6" stroke-opacity="1.00"/><line x1="722.57" y1="1354.8" x2="722.57" y2="1362.6" stroke-opacity="1.00"/><line x1="728.34" y1="1354.8" x2="728.34" y2="1362.6" stroke-opacity="1.00"/><line x1="734.12" y1="1354.8" x2="734.12" y2="1362.6" stroke-opacity="1.00"/><line x1="739.90" y1="1354.8" x2="739.90" y2="1362.6" stroke-opacity="1.00"/><line x1="745.67" y1="1354.8" x2="745.67" y2="1362.6" stroke-opacity="1.00"/><line x1="751.45" y1="1354.8" x2="751.45" y2="1362.6" stroke-opacity="1.00"/><line x1="757.23" y1="1354.8" x2="757.23" y2="1362.6" stroke-opacity="1.00"/><line x1="763.00" y1="1354.8" x2="763.00" y2="1362.6" stroke-opacity="1.00"/><line x1="768.78" y1="1354.8" x2="768.78" y2="1362.6" stroke-opacity="1.00"/><line x1="774.55" y1="1354.8" x2="774.55" y2="1362.6" stroke-opacity="1.00"/><line x1="780.33" y1="1354.8" x2="780.33" y2="1362.6" stroke-opacity="1.00"/><line x1="786.11" y1="1354.8" x2="786.11" y2="1362.6" stroke-opacity="1.00"/><line x1="791.88" y1="1354.8" x2="791.88" y2="1362.6" stroke-opacity="1.00"/><line x1="797.66" y1="1354.8" x2="797.66" y2="1362.6" stroke-opacity="1.00"/><line x1="803.43" y1="1354.8" x2="803.43" y2="1362.6" stroke-opacity="1.00"/><line x1="809.21" y1="1354.8" x2="809.21" y2="1362.6" stroke-opacity="1.00"/><line x1="814.99" y1="1354.8" x2="814.99" y2="1362.6" stroke-opacity="1.00"/><line x1="820.76" y1="1354.8" x2="820.76" y2="1362.6" stroke-opacity="1.00"/><line x1="826.54" y1="1354.8" x2="826.54" y2="1362.6" stroke-opacity="1.00"/><line x1="832.32" y1="1354.8" x2="832.32" y2="1362.6" stroke-opacity="1.00"/><line x1="838.09" y1="1354.8" x2="838.09" y2="1362.6" stroke-opacity="1.00"/><line x1="843.87" y1="1354.8" x2="843.87" y2="1362.6" stroke-opacity="1.00"/><line x1="849.64" y1="1354.8" x2="849.64" y2="1362.6" stroke-opacity="1.00"/><line x1="855.42" y1="1354.8" x2="855.42" y2="1362.6" stroke-opacity="1.00"/><line x1="861.20" y1="1354.8" x2="861.20" y2="1362.6" stroke-opacity="1.00"/><line x1="866.97" y1="1354.8" x2="866.97" y2="1362.6" stroke-opacity="1.00"/><line x1="872.75" y1="1354.8" x2="872.75" y2="1362.6" stroke-opacity="1.00"/><line x1="878.52" y1="1354.8" x2="878.52" y2="1362.6" stroke-opacity="1.00"/><line x1="884.30" y1="1354.8" x2="884.30" y2="1362.6" stroke-opacity="1.00"/><line x1="890.08" y1="1354.8" x2="890.08" y2="1362.6" stroke-opacity="1.00"/><line x1="895.85" y1="1354.8" x2="895.85" y2="1362.6" stroke-opacity="1.00"/><line x1="901.63" y1="1354.8" x2="901.63" y2="1362.6" stroke-opacity="1.00"/><line x1="907.41" y1="1354.8" x2="907.41" y2="1362.6" stroke-opacity="1.00"/><line x1="913.18" y1="1354.8" x2="913.18" y2="1362.6" stroke-opacity="1.00"/><line x1="918.96" y1="1354.8" x2="918.96" y2="1362.6" stroke-opacity="1.00"/><line x1="924.73" y1="1354.8" x2="924.73" y2="1362.6" stroke-opacity="1.00"/><line x1="930.51" y1="1354.8" x2="930.51" y2="1362.6" stroke-opacity="1.00"/><line x1="936.29" y1="1354.8" x2="936.29" y2="1362.6" stroke-opacity="1.00"/><line x1="942.06" y1="1354.8" x2="942.06" y2="1362.6" stroke-opacity="1.00"/><line x1="947.84" y1="1354.8" x2="947.84" y2="1362.6" stroke-opacity="1.00"/><line x1="953.61" y1="1354.8" x2="953.61" y2="1362.6" stroke-opacity="1.00"/><line x1="959.39" y1="1354.8" x2="959.39" y2="1362.6" stroke-opacity="1.00"/><line x1="965.17" y1="1354.8" x2="965.17" y2="1362.6" stroke-opacity="1.00"/><line x1="970.94" y1="1354.8" x2="970.94" y2="1362.6" stroke-opacity="1.00"/><line x1="976.72" y1="1354.8" x2="976.72" y2="1362.6" stroke-opacity="1.00"/><line x1="982.50" y1="1354.8" x2="982.50" y2="1362.6" stroke-opacity="1.00"/><line x1="988.27" y1="1354.8" x2="988.27" y2="1362.6" stroke-opacity="1.00"/><line x1="994.05" y1="1354.8" x2="994.05" y2="1362.6" stroke-opacity="1.00"/><line x1="999.82" y1="1354.8" x2="999.82" y2="1362.6" stroke-opacity="1.00"/><line x1="1005.60" y1="1354.8" x2="1005.60" y2="1362.6" stroke-opacity="1.00"/></g>
<line x1="243.15" y1="1354.5" x2="243.15" y2="1367.5" stroke="#777" stroke-width="2.2"/>
<line x1="497.30" y1="1354.5" x2="497.30" y2="1367.5" stroke="#777" stroke-width="2.2"/>
<line x1="751.45" y1="1354.5" x2="751.45" y2="1367.5" stroke="#777" stroke-width="2.2"/>
<line x1="1005.60" y1="1354.5" x2="1005.60" y2="1367.5" stroke="#777" stroke-width="2.2"/>
<text y="1400.2" font-size="31" fill="#7d7d7d" stroke="#7d7d7d" stroke-width="0.5"><tspan x="10.3" textLength="62.8" lengthAdjust="spacingAndGlyphs">2024</tspan><tspan x="74.26" dy="-1.6" textLength="17.85" lengthAdjust="spacingAndGlyphs">-</tspan><tspan x="93.1" dy="1.6" textLength="31.4" lengthAdjust="spacingAndGlyphs">10</tspan><tspan x="125.66" dy="-1.6" textLength="17.85" lengthAdjust="spacingAndGlyphs">-</tspan><tspan x="144.5" dy="1.6" textLength="31.4" lengthAdjust="spacingAndGlyphs">15</tspan></text>
<text y="1400.2" font-size="31" fill="#909090" stroke="#909090" stroke-width="0.5"><tspan x="200.6" textLength="31.4" lengthAdjust="spacingAndGlyphs">12</tspan><tspan x="233.16" dy="-1.6" textLength="17.85" lengthAdjust="spacingAndGlyphs">-</tspan><tspan x="252.0" dy="1.6" textLength="31.4" lengthAdjust="spacingAndGlyphs">11</tspan></text>
<text y="1400.2" font-size="31" fill="#7d7d7d" stroke="#7d7d7d" stroke-width="0.5"><tspan x="413.3" textLength="62.8" lengthAdjust="spacingAndGlyphs">2025</tspan><tspan x="477.26" dy="-1.6" textLength="17.85" lengthAdjust="spacingAndGlyphs">-</tspan><tspan x="496.1" dy="1.6" textLength="31.4" lengthAdjust="spacingAndGlyphs">02</tspan><tspan x="528.66" dy="-1.6" textLength="17.85" lengthAdjust="spacingAndGlyphs">-</tspan><tspan x="547.5" dy="1.6" textLength="31.4" lengthAdjust="spacingAndGlyphs">18</tspan></text>
<text y="1400.2" font-size="31" fill="#7d7d7d" stroke="#7d7d7d" stroke-width="0.5"><tspan x="710.3" textLength="31.4" lengthAdjust="spacingAndGlyphs">04</tspan><tspan x="742.86" dy="-1.6" textLength="17.85" lengthAdjust="spacingAndGlyphs">-</tspan><tspan x="761.7" dy="1.6" textLength="31.4" lengthAdjust="spacingAndGlyphs">22</tspan></text>
<text y="1400.2" font-size="31" fill="#444" stroke="#444" stroke-width="0.9"><tspan x="930.2" textLength="31.4" lengthAdjust="spacingAndGlyphs">06</tspan><tspan x="962.76" dy="-1.6" textLength="17.85" lengthAdjust="spacingAndGlyphs">-</tspan><tspan x="981.6" dy="1.6" textLength="31.4" lengthAdjust="spacingAndGlyphs">25</tspan></text>
<circle cx="972.8" cy="1408.4" r="5.3" fill="#f0575f"/>
<rect x="9.8" y="1429.7" width="1004.3" height="264.8" fill="#fff" stroke="#e7e7e7" stroke-width="2.1"/>
<line x1="11" y1="1590.5" x2="1013" y2="1590.5" stroke="#e9e9e9" stroke-width="1.3"/>
<rect x="20" y="1439" width="103.5" height="46.5" rx="4" fill="#f0f0f0"/>
<text x="33" y="1474" font-size="30" fill="#333" textLength="48" lengthAdjust="spacingAndGlyphs">RSI</text>
<polygon points="95.8,1458.5 110.2,1458.5 103.0,1468.5" fill="#5c5c5c" stroke="#5c5c5c" stroke-width="1.3" stroke-linejoin="round"/>
<circle cx="158.3" cy="1462.1" r="14.2" fill="none" stroke="#9a9a9a" stroke-width="2.5"/>
<text x="158.3" y="1470.6" font-size="23.8" fill="#8e8e8e" text-anchor="middle" stroke="#8e8e8e" stroke-width="0.4">?</text>
<text x="196" y="1474" font-size="30.5" fill="#111" textLength="159" lengthAdjust="spacingAndGlyphs">(6, 12, 24):</text>
<text x="380" y="1474" font-size="30.5" fill="#555" textLength="111" lengthAdjust="spacingAndGlyphs">6:74.59</text>
<text x="515" y="1474" font-size="30.5" fill="#00009A" textLength="131" lengthAdjust="spacingAndGlyphs">12:68.96</text>
<text x="671" y="1474" font-size="30.5" fill="#9D00FF" textLength="135" lengthAdjust="spacingAndGlyphs">24:63.44</text>
<clipPath id="rc"><rect x="11" y="1431" width="1002" height="263"/></clipPath>
<g clip-path="url(#rc)">
<polyline points="12.2,1587.9 17.8,1585.4 23.6,1577.8 29.5,1560.0 35.3,1553.6 41.1,1549.8 46.7,1623.5 52.6,1591.7 58.4,1571.4 64.2,1571.4 70.1,1541.7 75.7,1581.6 81.5,1643.8 87.3,1619.6 93.2,1627.3 99.0,1586.6 104.6,1539.7 110.4,1524.4 116.3,1523.2 122.1,1525.7 128.0,1533.3 133.6,1540.9 139.4,1573.9 145.2,1637.4 151.1,1614.6 156.9,1595.5 162.5,1598.1 168.3,1586.6 174.2,1579.0 180.0,1575.2 185.9,1554.4 191.4,1598.1 197.3,1566.3 203.1,1538.4 209.0,1532.1 214.8,1512.5 220.4,1529.5 226.2,1515.5 232.1,1556.2 237.9,1570.9 243.8,1532.1 249.3,1554.9 255.1,1540.9 260.7,1521.9 266.8,1540.9 272.3,1626.8 277.9,1634.1 283.8,1614.6 289.6,1591.7 295.2,1563.8 301.3,1568.1 306.9,1604.4 312.7,1627.3 318.6,1641.2 324.1,1644.5 330.0,1596.8 335.6,1572.2 341.4,1612.0 347.0,1611.3 352.8,1639.5 358.7,1643.8 364.8,1646.6 370.4,1580.3 376.2,1593.0 381.8,1563.3 387.6,1554.4 393.5,1533.8 399.3,1531.5 405.1,1554.4 410.7,1625.2 416.6,1593.0 422.4,1596.8 428.2,1586.6 433.8,1589.7 439.7,1613.3 445.5,1579.5 451.3,1568.9 457.2,1556.2 462.8,1599.8 468.6,1569.4 474.5,1577.8 480.3,1575.2 486.1,1542.2 491.7,1535.9 497.6,1531.5 503.4,1530.3 509.1,1561.2 515.0,1632.3 520.8,1653.9 526.4,1669.9 532.2,1661.0 538.1,1687.7 543.9,1639.5 549.8,1661.5 555.4,1665.4 561.2,1626.8 567.0,1659.0 572.9,1642.5 578.7,1671.7 584.3,1673.7 590.1,1648.8 596.0,1663.6 601.8,1615.8 607.7,1606.4 613.2,1629.8 619.1,1604.4 624.9,1609.0 630.8,1600.6 636.6,1562.5 642.2,1555.4 648.0,1598.1 653.9,1608.2 659.7,1644.5 665.5,1644.5 671.1,1625.2 677.0,1604.4 682.8,1666.6 688.7,1690.0 694.5,1686.9 700.1,1692.8 705.9,1575.2 711.8,1603.1 717.6,1591.2 723.4,1587.1 729.0,1585.9 734.9,1613.3 740.7,1613.8 746.5,1634.9 752.4,1599.3 758.0,1570.1 767.8,1548.0 773.6,1547.3 779.5,1542.2 785.3,1540.4 790.9,1528.2 796.8,1515.5 802.6,1537.1 808.4,1560.7 814.3,1553.6 819.9,1538.9 825.7,1539.7 831.5,1501.6 837.4,1494.0 843.2,1491.4 848.8,1490.9 854.6,1488.9 860.5,1488.4 866.3,1509.2 872.2,1568.9 877.8,1565.1 883.6,1598.8 889.4,1545.5 895.3,1561.2 901.1,1556.2 906.7,1561.2 912.5,1543.5 918.4,1528.2 924.2,1523.7 930.1,1565.1 935.6,1541.7 941.5,1537.9 947.3,1524.4 953.2,1546.5 959.0,1539.7 964.6,1601.9 970.4,1563.8 976.3,1593.8 982.1,1594.3 987.9,1609.0 993.5,1575.2 999.4,1539.2 1005.2,1530.3" fill="none" stroke="#444" stroke-width="2.3" stroke-linejoin="round" stroke-linecap="round"/>
<polyline points="12.2,1576.5 17.8,1575.2 23.6,1574.7 29.5,1565.1 35.3,1562.5 41.1,1561.2 46.7,1593.0 52.6,1581.6 58.4,1571.4 64.2,1571.4 70.1,1558.2 75.7,1573.9 81.5,1613.3 87.3,1602.6 93.2,1607.0 99.0,1586.6 104.6,1561.2 110.4,1546.5 116.3,1545.5 122.1,1546.5 128.0,1549.8 133.6,1553.6 139.4,1570.1 145.2,1603.7 151.1,1593.0 156.9,1584.6 162.5,1586.1 168.3,1580.8 174.2,1577.8 180.0,1575.2 185.9,1567.6 191.4,1585.4 197.3,1572.7 203.1,1558.2 209.0,1554.1 214.8,1540.9 220.4,1548.0 226.2,1539.2 232.1,1558.7 237.9,1565.1 243.8,1544.7 249.3,1557.4 255.1,1548.6 260.7,1537.1 266.8,1546.0 272.3,1599.3 277.9,1604.4 283.8,1593.0 289.6,1581.6 295.2,1569.4 301.3,1571.4 306.9,1591.7 312.7,1604.9 318.6,1613.3 324.1,1615.1 330.0,1594.3 335.6,1581.1 341.4,1603.1 347.0,1602.6 352.8,1618.4 358.7,1620.9 364.8,1622.2 370.4,1591.7 376.2,1599.3 381.8,1581.6 387.6,1576.0 393.5,1563.8 399.3,1561.8 405.1,1573.4 410.7,1606.2 416.6,1590.4 422.4,1592.5 428.2,1587.1 433.8,1589.2 439.7,1599.3 445.5,1584.6 451.3,1580.3 457.2,1574.5 462.8,1593.0 468.6,1577.8 474.5,1582.1 480.3,1581.1 486.1,1565.1 491.7,1560.7 497.6,1558.2 503.4,1557.4 509.1,1568.9 515.0,1604.4 520.8,1617.1 526.4,1629.3 532.2,1626.0 538.1,1648.8 543.9,1626.0 549.8,1641.2 555.4,1643.8 561.2,1626.0 567.0,1644.5 572.9,1636.2 578.7,1655.2 584.3,1656.5 590.1,1643.8 596.0,1653.4 601.8,1626.0 607.7,1620.9 613.2,1631.8 619.1,1618.4 624.9,1620.9 630.8,1617.1 636.6,1596.3 642.2,1591.7 648.0,1607.0 653.9,1612.0 659.7,1630.6 665.5,1630.6 671.1,1622.2 677.0,1613.8 682.8,1647.6 688.7,1667.4 694.5,1665.4 700.1,1670.4 705.9,1597.3 711.8,1612.0 717.6,1605.2 723.4,1602.6 729.0,1601.9 734.9,1614.1 740.7,1614.1 746.5,1624.7 752.4,1607.0 758.0,1591.7 767.8,1578.5 773.6,1577.8 779.5,1575.2 785.3,1573.9 790.9,1567.6 796.8,1559.2 802.6,1566.3 808.4,1573.9 814.3,1570.6 819.9,1564.6 825.7,1564.6 831.5,1540.9 837.4,1533.8 843.2,1530.8 848.8,1530.3 854.6,1528.2 860.5,1527.7 866.3,1534.1 872.2,1554.9 877.8,1554.1 883.6,1568.1 889.4,1547.3 895.3,1555.4 901.1,1553.6 906.7,1555.7 912.5,1548.6 918.4,1541.7 924.2,1539.7 930.1,1556.2 935.6,1546.5 941.5,1544.7 947.3,1538.9 953.2,1547.3 959.0,1544.2 964.6,1568.9 970.4,1554.9 976.3,1573.4 982.1,1573.9 987.9,1580.8 993.5,1566.3 999.4,1551.6 1005.2,1545.5" fill="none" stroke="#000090" stroke-width="2.3" stroke-linejoin="round" stroke-linecap="round"/>
<polyline points="12.2,1579.0 17.8,1577.8 23.6,1577.2 29.5,1573.9 35.3,1572.7 41.1,1571.9 46.7,1584.6 52.6,1580.3 58.4,1575.2 64.2,1575.2 70.1,1569.6 75.7,1575.2 81.5,1595.5 87.3,1590.4 93.2,1593.0 99.0,1582.8 104.6,1568.9 110.4,1561.2 116.3,1560.7 122.1,1561.2 128.0,1563.0 133.6,1565.1 139.4,1571.4 145.2,1589.2 151.1,1584.1 156.9,1580.3 162.5,1580.8 168.3,1578.3 174.2,1577.0 180.0,1575.7 185.9,1571.9 191.4,1580.3 197.3,1574.5 203.1,1567.6 209.0,1565.6 214.8,1558.2 220.4,1561.2 226.2,1556.2 232.1,1563.8 237.9,1567.6 243.8,1556.9 249.3,1563.3 255.1,1558.2 260.7,1551.9 266.8,1556.9 272.3,1585.4 277.9,1588.7 283.8,1584.1 289.6,1578.5 295.2,1570.1 301.3,1571.4 306.9,1582.8 312.7,1591.0 318.6,1596.0 324.1,1596.8 330.0,1586.6 335.6,1580.3 341.4,1591.7 347.0,1591.7 352.8,1600.6 358.7,1602.6 364.8,1603.9 370.4,1589.2 376.2,1593.0 381.8,1584.6 387.6,1581.1 393.5,1574.7 399.3,1573.4 405.1,1578.5 410.7,1596.3 416.6,1587.9 422.4,1589.2 428.2,1587.1 433.8,1587.9 439.7,1593.5 445.5,1585.4 451.3,1582.8 457.2,1579.8 462.8,1589.2 468.6,1581.6 474.5,1584.1 480.3,1583.6 486.1,1576.0 491.7,1573.2 497.6,1571.4 503.4,1570.9 509.1,1577.2 515.0,1592.5 520.8,1599.3 526.4,1606.2 532.2,1604.4 538.1,1619.1 543.9,1609.5 549.8,1618.4 555.4,1620.4 561.2,1612.5 567.0,1624.2 572.9,1620.4 578.7,1633.6 584.3,1634.4 590.1,1628.0 596.0,1634.1 601.8,1620.9 607.7,1618.4 613.2,1624.7 619.1,1617.1 624.9,1618.4 630.8,1616.3 636.6,1605.7 642.2,1603.1 648.0,1610.3 653.9,1613.3 659.7,1622.2 665.5,1622.7 671.1,1618.4 677.0,1614.1 682.8,1631.8 688.7,1647.1 694.5,1646.6 700.1,1650.6 705.9,1605.7 711.8,1616.6 717.6,1611.5 723.4,1609.5 729.0,1609.0 734.9,1616.3 740.7,1616.3 746.5,1622.2 752.4,1612.0 758.0,1603.1 767.8,1595.5 773.6,1594.8 779.5,1593.0 785.3,1592.5 790.9,1588.4 796.8,1583.3 802.6,1586.6 808.4,1589.9 814.3,1588.4 819.9,1584.6 825.7,1584.6 831.5,1570.9 837.4,1566.3 843.2,1564.6 848.8,1564.3 854.6,1562.5 860.5,1562.3 866.3,1565.1 872.2,1571.9 877.8,1571.4 883.6,1576.5 889.4,1567.6 895.3,1570.1 901.1,1569.4 906.7,1570.1 912.5,1567.1 918.4,1563.8 924.2,1562.5 930.1,1568.4 935.6,1564.3 941.5,1563.3 947.3,1560.0 953.2,1563.0 959.0,1561.8 964.6,1570.9 970.4,1565.8 976.3,1571.4 982.1,1571.4 987.9,1574.7 993.5,1568.9 999.4,1562.5 1005.2,1559.5" fill="none" stroke="#9B00FF" stroke-width="2.3" stroke-linejoin="round" stroke-linecap="round"/>
</g>
<text x="15.2" y="1594.4" font-size="30" fill="#8f8f8f" textLength="70.5" lengthAdjust="spacingAndGlyphs" stroke="#8f8f8f" stroke-width="0.5" fill-opacity="0.88" stroke-opacity="0.88">51.57</text>
<rect x="9.8" y="1712.2" width="1004.3" height="266" fill="#fff" stroke="#e7e7e7" stroke-width="2.1"/>
<radialGradient id="adp" cx="0.5" cy="0.5" r="0.5"><stop offset="0" stop-color="#fbe4e4" stop-opacity="0.75"/><stop offset="1" stop-color="#fbe4e4" stop-opacity="0"/></radialGradient>
<radialGradient id="adgn" cx="0.5" cy="0.5" r="0.5"><stop offset="0" stop-color="#e2f1ec" stop-opacity="0.8"/><stop offset="1" stop-color="#e2f1ec" stop-opacity="0"/></radialGradient>
<clipPath id="adc"><rect x="762" y="1713.3" width="251.2" height="263.8"/></clipPath>
<g clip-path="url(#adc)"><rect x="762" y="1713.3" width="252" height="265" fill="#fafafa"/><ellipse cx="885" cy="1803" rx="190" ry="62" fill="url(#adp)"/><ellipse cx="850" cy="1880" rx="170" ry="45" fill="url(#adgn)"/></g>
<line x1="11" y1="1873.5" x2="762" y2="1873.5" stroke="#e6e6e6" stroke-width="1.4"/>
<rect x="20" y="1722.5" width="182" height="46.5" rx="4" fill="#f0f0f0"/>
<text y="1757" font-size="30" fill="#333"><tspan x="34">AI</tspan><tspan x="66.6" textLength="91.5" lengthAdjust="spacingAndGlyphs">牛熊线</tspan></text>
<polygon points="174.8,1741.5 189.2,1741.5 182.0,1751.5" fill="#5c5c5c" stroke="#5c5c5c" stroke-width="1.3" stroke-linejoin="round"/>
<circle cx="236.4" cy="1745.8" r="14.2" fill="none" stroke="#9a9a9a" stroke-width="2.5"/>
<text x="236.4" y="1754.3" font-size="23.8" fill="#8e8e8e" text-anchor="middle" stroke="#8e8e8e" stroke-width="0.4">?</text>
<text x="276.3 293.2 310.1" y="1755.1" font-size="20.5" font-weight="bold" fill="#f0202a" stroke="#f0202a" stroke-width="0.7" font-family='"DejaVu Sans", sans-serif'>***</text>
<text x="336.5" y="1755.3" font-size="31" fill="#2a2a2a" textLength="126" lengthAdjust="spacingAndGlyphs" stroke="#2a2a2a" stroke-width="0.3">趋势上涨</text>
<text x="497.1 514.0 530.9" y="1755.1" font-size="20.5" font-weight="bold" fill="#0c9b0c" stroke="#0c9b0c" stroke-width="0.7" font-family='"DejaVu Sans", sans-serif'>***</text>
<text x="557" y="1755.3" font-size="31" fill="#2a2a2a" textLength="126" lengthAdjust="spacingAndGlyphs" stroke="#2a2a2a" stroke-width="0.3">趋势下跌</text>
<circle cx="294" cy="1845.5" r="19.5" fill="none" stroke="#999" stroke-width="2.2"/>
<text x="294.4" y="1855.4" font-size="27.7" fill="#999" text-anchor="middle">!</text>
<text x="329" y="1858.5" font-size="36.4" fill="#9b9b9b">该指标不适用于该市场</text>
<linearGradient id="bg1" x1="0" x2="1" y1="0" y2="1"><stop offset="0" stop-color="#5ba3ff"/><stop offset="1" stop-color="#2c68f4"/></linearGradient>
<rect x="856.7" y="1768.8" width="62.7" height="63" rx="10.5" fill="url(#bg1)"/>
<line x1="901" y1="1813.8" x2="909.6" y2="1821.2" stroke="#fdfdff" stroke-width="6.6" stroke-linecap="round"/>
<circle cx="886.6" cy="1799" r="20" fill="#dbe8ff"/><circle cx="886.6" cy="1799" r="17" fill="#fafcff"/><circle cx="886.6" cy="1799" r="14.2" fill="#eef5ff" stroke="#d5e5fb" stroke-width="1.2"/>
<clipPath id="pc"><circle cx="886.6" cy="1799" r="13.8"/></clipPath>
<g clip-path="url(#pc)"><path d="M873,1815 C874,1806 880,1803 886.6,1803 C893.2,1803 899.2,1806 900.2,1815 Z" fill="#a7cbf8"/><path d="M885.2,1803.5 h2.8 l0.9,9.5 h-4.6 z" fill="#3f7fe8"/></g>
<ellipse cx="886.6" cy="1794.6" rx="5" ry="5.8" fill="#4a8ff6"/>
<text x="830" y="1874" font-size="29" fill="#2e2e2e">决策助手</text>
<text x="799.5" y="1912.5" font-size="26.3" fill="#666">挖潜力上涨股</text>
<polygon points="968,1894 968,1910 977,1902" fill="#444"/>
<rect x="0" y="2001" width="1024" height="8.8" fill="#f4f4f4"/>
<rect x="0" y="2010.8" width="1024" height="207" fill="#1a1a1a"/>
<rect x="106.9" y="2029.6" width="42.1" height="41.8" rx="4.2" fill="none" stroke="#ff2a36" stroke-width="3.2"/>
<text x="128" y="2060.2" font-size="25.5" fill="#ff2a36" font-weight="bold" text-anchor="middle">买</text>
<text x="128" y="2107.3" font-size="26" fill="#c9c9c9" text-anchor="middle">买指数</text>
<text x="384" y="2107.3" font-size="26" fill="#c9c9c9" text-anchor="middle">社区</text>
<text x="640" y="2107.3" font-size="26" fill="#c9c9c9" text-anchor="middle">加自选</text>
<text x="896" y="2107.3" font-size="26" fill="#c9c9c9" text-anchor="middle">功能</text>
<g fill="none" stroke="#9c9c9c" stroke-width="2.7"><path d="M388.1,2029.6 A20.9,20.9 0 0 1 409,2050.5 V2069.2 Q409,2071.4 406.8,2071.4 H388.1 A20.9,20.9 0 0 1 388.1,2029.6 Z"/><path d="M374.7,2025.6 A27.75,27.75 0 0 0 374.7,2075.2" stroke-linecap="round"/></g>
<polygon points="388.2,2037.4 392.1,2045.5 400.9,2046.7 394.5,2052.8 396.1,2061.6 388.2,2057.4 380.3,2061.6 381.9,2052.8 375.5,2046.7 384.3,2045.5" fill="none" stroke="#9c9c9c" stroke-width="2.5" stroke-linejoin="miter"/>
<rect x="616.4" y="2029.6" width="46.9" height="41.8" rx="2.2" fill="none" stroke="#f0343a" stroke-width="3.2"/>
<line x1="628" y1="2050.4" x2="652" y2="2050.4" stroke="#f0343a" stroke-width="3"/><line x1="639.9" y1="2038.5" x2="639.9" y2="2062.5" stroke="#f0343a" stroke-width="3"/>
<circle cx="896.3" cy="2050.4" r="22.3" fill="none" stroke="#a4a4a4" stroke-width="2.8"/>
<line x1="887.9" y1="2043.8" x2="904.3" y2="2043.8" stroke="#b6b6b6" stroke-width="2.8"/>
<line x1="887.9" y1="2050.4" x2="904.3" y2="2050.4" stroke="#b6b6b6" stroke-width="2.8"/>
<line x1="887.9" y1="2057" x2="904.3" y2="2057" stroke="#b6b6b6" stroke-width="2.8"/>
<rect x="330" y="2181" width="365" height="14" rx="7" fill="#fff"/>
</svg>
</body></html>
